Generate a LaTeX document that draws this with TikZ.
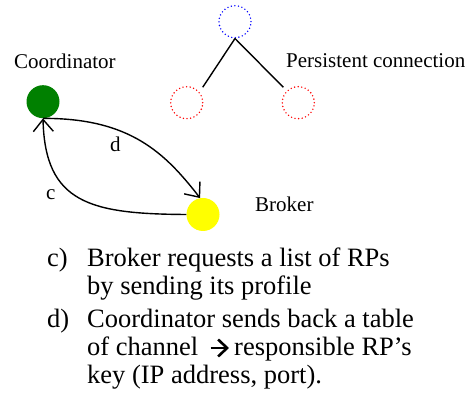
\documentclass[tikz,border=0pt]{standalone}
\usepackage{fontspec}
\setmainfont{Liberation Serif}
\usetikzlibrary{arrows.meta}
\definecolor{coordgreen}{RGB}{0,128,0}
\definecolor{brokeryellow}{RGB}{255,255,0}
\begin{document}
\begin{tikzpicture}[x=1pt,y=1pt,
  lbl/.style={anchor=base west, inner sep=0pt, font=\fontsize{21}{25}\selectfont},
  txt/.style={anchor=base west, inner sep=0pt, font=\fontsize{26.5}{28}\selectfont},
  peer/.style={circle, inner sep=0pt, minimum size=33pt},
  ring/.style={circle, inner sep=0pt, minimum size=32pt, line width=1.6pt,
               dash pattern=on 0pt off 3.6pt, line cap=round},
  link/.style={line width=1.4pt},
  msg/.style={line width=1.4pt, -{Straight Barb[length=12pt,width=20pt]}},
  maps/.style={line width=2.6pt, -{Straight Barb[length=9pt,width=17pt,line width=2.6pt]}}]
\useasboundingbox (0,0) rectangle (471,398);

% overlay tree of rendezvous points
\node[ring, draw=blue] (top) at (235,376.3) {};
\node[ring, draw=red] (left) at (186.7,295.3) {};
\node[ring, draw=red] (right) at (298.3,295.3) {};
\coordinate (leftend) at (202.7,310.7);
\coordinate (rightend) at (283.3,310.7);
\draw[link] (top.south) -- (leftend);
\draw[link] (top.south) -- (rightend);
\node[lbl] (persist) at (286,330) {Persistent connection};

% coordinator and broker
\node[peer, fill=coordgreen] (coord) at (43,296.3) {};
\node[peer, fill=brokeryellow] (broker) at (203,183.5) {};
\node[lbl] (coordlbl) at (14,329) {Coordinator};
\node[lbl] (brokerlbl) at (255,186.3) {Broker};

% message exchange
\draw[msg] (coord.south) .. controls (130,280) and (165,245) .. (broker.100);
\draw[msg] (broker.west) .. controls (90,184) and (45,195) .. (coord.south);
\node[lbl] (dlbl) at (110,246) {d};
\node[lbl] (clbl) at (46,198.7) {c};

% step descriptions
\node[txt] (citem) at (47,131.3) {c)};
\node[txt] (cline1) at (87,131.3) {Broker requests a list of RPs};
\node[txt] (cline2) at (87,103) {by sending its profile};
\node[txt] (ditem) at (47,70) {d)};
\node[txt] (dline1) at (87,70) {Coordinator sends back a table};
\node[txt] (dline2a) at (87,42) {of channel};
\node[txt] (dline2b) at (234,42) {responsible RP’s};
\draw[maps] ([xshift=12pt,yshift=8pt]dline2a.base east)
         -- ([xshift=-5pt,yshift=8pt]dline2b.base west);
\node[txt] (dline3) at (87,14) {key (IP address, port).};
\end{tikzpicture}
\end{document}
